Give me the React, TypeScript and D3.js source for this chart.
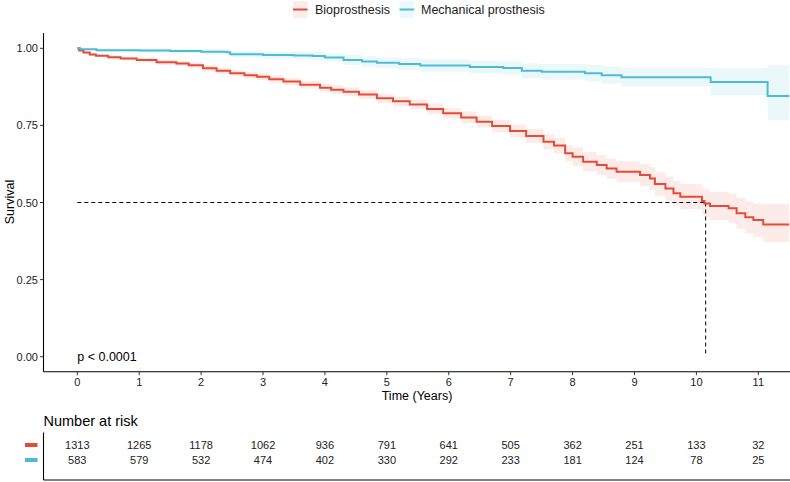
import React from "react";
import * as d3 from "d3";

const groups = ["Bioprosthesis", "Mechanical prosthesis"];
const colors = ["#E64B35", "#4DBBD5"];

const bioTime = [0, 0.03, 0.1, 0.2, 0.3, 0.5, 0.7, 0.96, 1.28, 1.6, 1.8, 2.03, 2.25, 2.47, 2.7, 2.9, 3.1, 3.33, 3.6, 3.92, 4.1, 4.3, 4.55, 4.84, 5.1, 5.37, 5.65, 5.91, 6.2, 6.45, 6.7, 6.99, 7.25, 7.53, 7.7, 7.88, 8.0, 8.17, 8.39, 8.55, 8.71, 9.09, 9.25, 9.33, 9.5, 9.63, 9.74, 10.09, 10.13, 10.22, 10.52, 10.65, 10.79, 10.92, 11.08, 11.5];
const bioSurv = [1, 0.993, 0.986, 0.98, 0.976, 0.971, 0.967, 0.962, 0.955, 0.951, 0.945, 0.935, 0.927, 0.919, 0.913, 0.908, 0.9, 0.892, 0.882, 0.872, 0.866, 0.859, 0.85, 0.838, 0.828, 0.818, 0.803, 0.789, 0.776, 0.762, 0.748, 0.732, 0.716, 0.697, 0.685, 0.66, 0.648, 0.632, 0.622, 0.61, 0.6, 0.589, 0.578, 0.56, 0.545, 0.53, 0.519, 0.505, 0.497, 0.489, 0.481, 0.465, 0.452, 0.443, 0.429, 0.429];
const bioLower = [1, 0.99, 0.982, 0.975, 0.971, 0.965, 0.961, 0.955, 0.947, 0.943, 0.936, 0.925, 0.917, 0.909, 0.902, 0.897, 0.888, 0.88, 0.87, 0.859, 0.852, 0.845, 0.836, 0.823, 0.812, 0.802, 0.786, 0.772, 0.757, 0.743, 0.728, 0.711, 0.693, 0.673, 0.66, 0.634, 0.618, 0.601, 0.59, 0.577, 0.566, 0.553, 0.541, 0.522, 0.506, 0.49, 0.478, 0.461, 0.452, 0.443, 0.433, 0.415, 0.4, 0.389, 0.372, 0.372];
const bioUpper = [1, 0.996, 0.99, 0.985, 0.981, 0.977, 0.973, 0.969, 0.963, 0.959, 0.954, 0.945, 0.937, 0.929, 0.924, 0.919, 0.912, 0.904, 0.894, 0.885, 0.88, 0.873, 0.864, 0.853, 0.844, 0.834, 0.82, 0.806, 0.795, 0.781, 0.768, 0.753, 0.739, 0.721, 0.71, 0.686, 0.678, 0.663, 0.654, 0.643, 0.634, 0.625, 0.615, 0.598, 0.584, 0.57, 0.56, 0.549, 0.542, 0.535, 0.529, 0.515, 0.504, 0.497, 0.495, 0.5];

const mechTime = [0, 0.05, 0.31, 1.0, 1.5, 2.0, 2.41, 2.47, 3.0, 3.5, 3.8, 4.0, 4.3, 4.6, 4.84, 5.2, 5.54, 6.34, 6.88, 7.18, 7.5, 8.2, 8.47, 8.79, 10.23, 11.15, 11.5];
const mechSurv = [1, 0.997, 0.994, 0.993, 0.991, 0.989, 0.987, 0.981, 0.978, 0.977, 0.975, 0.97, 0.962, 0.957, 0.953, 0.949, 0.944, 0.939, 0.936, 0.927, 0.924, 0.919, 0.913, 0.906, 0.891, 0.845, 0.845];
const mechLower = [1, 0.994, 0.989, 0.987, 0.984, 0.981, 0.978, 0.971, 0.967, 0.965, 0.962, 0.956, 0.946, 0.94, 0.935, 0.93, 0.924, 0.918, 0.914, 0.903, 0.899, 0.892, 0.885, 0.876, 0.848, 0.767, 0.767];
const mechUpper = [1, 1, 0.999, 0.999, 0.998, 0.997, 0.996, 0.991, 0.989, 0.989, 0.988, 0.984, 0.978, 0.974, 0.971, 0.968, 0.964, 0.96, 0.958, 0.951, 0.949, 0.946, 0.941, 0.936, 0.935, 0.946, 0.946];

const timeTicks = [0, 1, 2, 3, 4, 5, 6, 7, 8, 9, 10, 11];
const survTicks = [0, 0.25, 0.5, 0.75, 1];
const riskBio = [1313, 1265, 1178, 1062, 936, 791, 641, 505, 362, 251, 133, 32];
const riskMech = [583, 579, 532, 474, 402, 330, 292, 233, 181, 124, 78, 25];
const medianTime = 10.15;

const W = 790;
const H = 482;
const FONT = "'Liberation Sans', Arial, sans-serif";

export default function App() {
  const x = d3.scaleLinear().domain([0, 11]).range([77.3, 758.3]);
  const y = d3.scaleLinear().domain([0, 1]).range([356.7, 48.3]);
  const panelL = 43.5, panelR = 790, panelB = 371.7, panelT = 33;

  const series = [
    { t: bioTime, s: bioSurv, lo: bioLower, hi: bioUpper, c: colors[0] },
    { t: mechTime, s: mechSurv, lo: mechLower, hi: mechUpper, c: colors[1] },
  ];

  const line = d3.line<[number, number]>().x(d => x(d[0])).y(d => y(d[1])).curve(d3.curveStepAfter);
  const area = d3.area<[number, number, number]>().x(d => x(d[0])).y0(d => y(d[1])).y1(d => y(d[2])).curve(d3.curveStepAfter);

  const riskRows = [riskBio, riskMech];
  const rowY = [449, 464];

  return (
    <svg width={W} height={H} style={{ position: "absolute", left: 0, top: 0, background: "#fff" }} fontFamily={FONT}>
      {groups.map((g, i) => {
        const kx = i === 0 ? 293 : 399.5;
        const tx = i === 0 ? 315 : 421;
        return (
          <g key={g}>
            <rect x={kx} y={1} width={14.5} height={17} fill={colors[i]} opacity={0.1} />
            <line x1={kx} x2={kx + 14.5} y1={9.5} y2={9.5} stroke={colors[i]} strokeWidth={2} />
            <text x={tx} y={14} fontSize={12.5} fill="#222">{g}</text>
          </g>
        );
      })}

      {series.map((sr, i) => (
        <path key={"a" + i} d={area(sr.t.map((t, j) => [t, sr.lo[j], sr.hi[j]] as [number, number, number])) || ""} fill={sr.c} opacity={0.11} />
      ))}
      <line x1={x(0)} x2={x(medianTime)} y1={y(0.5)} y2={y(0.5)} stroke="#000" strokeDasharray="4,3" strokeWidth={1} />
      <line x1={x(medianTime)} x2={x(medianTime)} y1={y(0.5)} y2={y(0)} stroke="#000" strokeDasharray="4,3" strokeWidth={1} />
      {series.map((sr, i) => (
        <path key={"l" + i} d={line(sr.t.map((t, j) => [t, sr.s[j]] as [number, number])) || ""} fill="none" stroke={sr.c} strokeWidth={2} />
      ))}

      <line x1={panelL} x2={panelL} y1={panelT} y2={panelB} stroke="#000" strokeWidth={1.1} />
      <line x1={panelL} x2={panelR} y1={panelB} y2={panelB} stroke="#000" strokeWidth={1.1} />
      {survTicks.map(v => (
        <g key={"y" + v}>
          <line x1={panelL - 3.5} x2={panelL} y1={y(v)} y2={y(v)} stroke="#333" />
          <text x={panelL - 5.5} y={y(v) + 4} textAnchor="end" fontSize={11} fill="#222">{v.toFixed(2)}</text>
        </g>
      ))}
      {timeTicks.map(v => (
        <g key={"x" + v}>
          <line x1={x(v)} x2={x(v)} y1={panelB} y2={panelB + 3.5} stroke="#333" />
          <text x={x(v)} y={panelB + 14.5} textAnchor="middle" fontSize={11} fill="#222">{v}</text>
        </g>
      ))}
      <text x={417} y={400} textAnchor="middle" fontSize={12.5} fill="#000">Time (Years)</text>
      <text transform={`translate(14,202) rotate(-90)`} textAnchor="middle" fontSize={12.5} fill="#000">Survival</text>
      <text x={x(0)} y={361} fontSize={12.5} fill="#000">p &lt; 0.0001</text>

      <text x={43.5} y={426} fontSize={14.5} fill="#000">Number at risk</text>
      <line x1={panelL} x2={panelL} y1={432.5} y2={480} stroke="#000" strokeWidth={1.1} />
      <line x1={panelL} x2={panelR} y1={480} y2={480} stroke="#000" strokeWidth={1.1} />
      {riskRows.map((row, i) => (
        <g key={"r" + i}>
          <line x1={25} x2={37.5} y1={rowY[i] - 4} y2={rowY[i] - 4} stroke={colors[i]} strokeWidth={4} />
          {row.map((n, j) => (
            <text key={j} x={x(timeTicks[j])} y={rowY[i]} textAnchor="middle" fontSize={11} fill="#222">{n}</text>
          ))}
        </g>
      ))}
    </svg>
  );
}
